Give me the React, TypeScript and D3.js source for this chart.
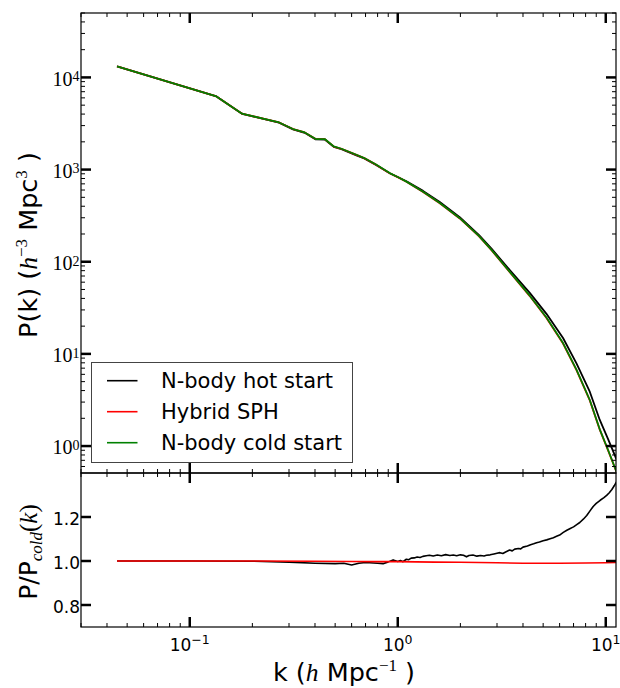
import React from "react";
import * as d3 from "d3";

// ---------- data ----------
const kTop = [0.0447, 0.1344, 0.1784, 0.2687, 0.3137, 0.357, 0.4034, 0.4457, 0.4924, 0.5362, 0.6329, 0.69, 0.79, 0.915, 1.01, 1.101, 1.323, 1.592, 1.986, 2.46, 2.822, 3.456, 4.312, 5.187, 6.232, 7.231, 8.379, 9.358, 10.26, 11.26];
const pCold = [13150, 6220, 4036, 3246, 2752, 2528, 2143, 2143, 1781, 1683, 1448, 1333, 1127, 916, 820, 740, 575, 433, 297, 190, 134.6, 77.5, 42.8, 24.8, 13.1, 6.75, 3.16, 1.52, 0.906, 0.527];
const pHot = [13150, 6220, 4034, 3230, 2730, 2505, 2122, 2120, 1762, 1662, 1424, 1320, 1114, 912, 820, 747, 587, 444, 305, 194.5, 138.6, 81.3, 45.9, 27.2, 14.86, 7.9, 3.89, 1.92, 1.187, 0.717];
const pSph = [13150, 6220, 4036, 3246, 2752, 2527, 2142, 2141, 1779, 1681, 1446, 1331, 1124, 913, 817, 737, 572, 430, 295, 188.5, 133.5, 76.8, 42.4, 24.55, 12.97, 6.68, 3.13, 1.505, 0.898, 0.523];

const kRatio = [0.0447, 0.1, 0.2, 0.3, 0.4, 0.5, 0.55, 0.6, 0.65, 0.7, 0.8, 0.85, 0.9, 0.95, 1.0, 1.03, 1.06, 1.1, 1.13, 1.16, 1.2, 1.24, 1.28, 1.32, 1.37, 1.42, 1.48, 1.55, 1.62, 1.7, 1.78, 1.85, 1.92, 2.0, 2.07, 2.14, 2.2, 2.3, 2.4, 2.5, 2.6, 2.67, 2.78, 2.9, 3.0, 3.1, 3.2, 3.3, 3.45, 3.55, 3.65, 3.8, 3.9, 4.0, 4.2, 4.35, 4.5, 4.65, 4.8, 5.0, 5.2, 5.4, 5.6, 5.8, 6.0, 6.25, 6.5, 6.75, 7.0, 7.25, 7.5, 7.8, 8.1, 8.4, 8.7, 9.0, 9.4, 9.8, 10.1, 10.4, 10.7, 11.0, 11.26];
const ratioHot = [1.0, 1.0, 0.999, 0.995, 0.99, 0.988, 0.99, 0.982, 0.99, 0.993, 0.99, 0.988, 0.996, 1.005, 0.998, 1.002, 0.997, 1.008, 1.006, 1.013, 1.014, 1.018, 1.016, 1.021, 1.024, 1.026, 1.023, 1.027, 1.024, 1.029, 1.025, 1.027, 1.024, 1.028, 1.026, 1.019, 1.025, 1.027, 1.022, 1.025, 1.023, 1.026, 1.028, 1.032, 1.035, 1.038, 1.034, 1.041, 1.05, 1.046, 1.054, 1.057, 1.055, 1.063, 1.068, 1.074, 1.078, 1.083, 1.086, 1.092, 1.096, 1.101, 1.106, 1.112, 1.118, 1.13, 1.14, 1.148, 1.155, 1.165, 1.175, 1.19, 1.207, 1.228, 1.248, 1.262, 1.276, 1.288, 1.298, 1.31, 1.325, 1.343, 1.36];
const kSph = [0.0447, 0.2, 0.4, 0.6, 0.8, 1.0, 1.5, 2.0, 3.0, 4.0, 6.0, 8.0, 10.0, 11.26];
const ratioSph = [1.0, 1.0, 0.999, 0.998, 0.997, 0.997, 0.995, 0.994, 0.992, 0.99, 0.99, 0.991, 0.992, 0.993];

const seriesNames = ["N-body hot start", "Hybrid SPH", "N-body cold start"];
const seriesColors = ["#000000", "#ff0000", "#008000"];
const xDecades = [-1, 0, 1];
const yTopDecades = [0, 1, 2, 3, 4];
const yBotTicks = [0.8, 1.0, 1.2];
const yBotLabels = ["0.8", "1.0", "1.2"];

// ---------- layout ----------
const L = 81, R = 616, T = 13, MID = 473, B = 627;

export default function App() {
  const x = d3.scaleLog().domain([0.03, 11.2]).range([L, R]);
  const yTop = d3.scaleLog().domain([0.51, 5e4]).range([MID, T]);
  const yBot = d3.scaleLinear().domain([0.7, 1.4]).range([B, MID]);

  const lineTop = (ps: number[]) =>
    d3.line<number>().x((_, i) => x(kTop[i])).y((p) => yTop(p))(ps) || "";
  const lineBot = (ks: number[], rs: number[]) =>
    d3.line<number>().x((_, i) => x(ks[i])).y((r) => yBot(r))(rs) || "";

  const isPow = (v: number) => Math.abs(Math.log10(v) - Math.round(Math.log10(v))) < 1e-6;
  const xMinor = x.ticks().filter((v) => !isPow(v));
  const xMajor = xDecades.map((e) => Math.pow(10, e));
  const yMinor = yTop.ticks().filter((v) => !isPow(v));
  const yMajor = yTopDecades.map((e) => Math.pow(10, e));

  const MAJ = 10, MIN = 4, MAJW = 2.5, MINW = 1;
  const sans = "DejaVu Sans, Bitstream Vera Sans, sans-serif";
  const serif = "Liberation Serif, DejaVu Serif, serif";

  const ticks: JSX.Element[] = [];
  let key = 0;
  const xEdges: [number, number][] = [[T, 1], [MID, -1], [MID, 1], [B, -1]];
  xEdges.forEach(([y0, dir]) => {
    xMajor.forEach((v) =>
      ticks.push(<line key={key++} x1={x(v)} x2={x(v)} y1={y0} y2={y0 + dir * MAJ} stroke="#000" strokeWidth={MAJW} />)
    );
    xMinor.forEach((v) =>
      ticks.push(<line key={key++} x1={x(v)} x2={x(v)} y1={y0} y2={y0 + dir * MIN} stroke="#000" strokeWidth={MINW} />)
    );
  });
  [[L, 1], [R, -1]].forEach(([x0, dir]) => {
    yMajor.forEach((v) =>
      ticks.push(<line key={key++} x1={x0} x2={x0 + dir * MAJ} y1={yTop(v)} y2={yTop(v)} stroke="#000" strokeWidth={MAJW} />)
    );
    yMinor.forEach((v) =>
      ticks.push(<line key={key++} x1={x0} x2={x0 + dir * MIN} y1={yTop(v)} y2={yTop(v)} stroke="#000" strokeWidth={MINW} />)
    );
    yBotTicks.forEach((v) =>
      ticks.push(<line key={key++} x1={x0} x2={x0 + dir * MAJ} y1={yBot(v)} y2={yBot(v)} stroke="#000" strokeWidth={MAJW} />)
    );
  });

  const topSeries = [pHot, pSph, pCold];

  const legX = 91.5, legY = 362.5, legW = 261, legH = 100;
  const rowY = [380.7, 411.7, 442.7];

  return (
    <svg width={620} height={688} style={{ position: "absolute", left: 0, top: 0, background: "#fff" }}>
      <defs>
        <clipPath id="clipTop"><rect x={L} y={T} width={R - L} height={MID - T} /></clipPath>
        <clipPath id="clipBot"><rect x={L} y={MID} width={R - L} height={B - MID} /></clipPath>
      </defs>
      <rect x={0} y={0} width={620} height={688} fill="#fff" />

      <g clipPath="url(#clipTop)">
        {topSeries.map((s, i) => (
          <path key={i} d={lineTop(s)} fill="none" stroke={seriesColors[i]} strokeWidth={1.8} strokeLinejoin="round" />
        ))}
      </g>
      <g clipPath="url(#clipBot)">
        <path d={lineBot(kRatio, ratioHot)} fill="none" stroke={seriesColors[0]} strokeWidth={1.6} strokeLinejoin="round" />
        <path d={lineBot(kSph, ratioSph)} fill="none" stroke={seriesColors[1]} strokeWidth={1.6} strokeLinejoin="round" />
      </g>

      {ticks}

      <rect x={L} y={T} width={R - L} height={MID - T} fill="none" stroke="#000" strokeWidth={1.2} />
      <rect x={L} y={MID} width={R - L} height={B - MID} fill="none" stroke="#000" strokeWidth={1.2} />

      {yTopDecades.map((e) => (
        <text key={e} x={79.5} y={yTop(Math.pow(10, e)) + 8.3} textAnchor="end" fontFamily={serif} fontSize={20}>
          10<tspan dy={-4.5} fontSize={14}>{e}</tspan>
        </text>
      ))}
      {yBotTicks.map((v, i) => (
        <text key={i} x={80} y={yBot(v) + 7.5} textAnchor="end" fontFamily={sans} fontSize={17}>
          {yBotLabels[i]}
        </text>
      ))}
      {xDecades.map((e) => (
        <text key={e} x={x(Math.pow(10, e))} y={651} textAnchor="middle" fontFamily={sans} fontSize={17}>
          10<tspan dy={-7} fontSize={12.5}>{e < 0 ? "\u2212" + Math.abs(e) : String(e)}</tspan>
        </text>
      ))}

      <text x={344} y={681} textAnchor="middle" fontFamily={sans} fontSize={25.5}>
        {"k ("}
        <tspan fontFamily={serif} fontStyle="italic">h</tspan>
        {" Mpc"}
        <tspan dy={-10} fontSize={17} fontFamily={serif}>{"\u22121"}</tspan>
        <tspan dy={10}>{" )"}</tspan>
      </text>
      <text transform="translate(37,245) rotate(-90)" textAnchor="middle" fontFamily={sans} fontSize={25.5}>
        {"P(k) ("}
        <tspan fontFamily={serif} fontStyle="italic">h</tspan>
        <tspan dy={-10} fontSize={17} fontFamily={serif}>{"\u22123"}</tspan>
        <tspan dy={10}>{" Mpc"}</tspan>
        <tspan dy={-10} fontSize={17} fontFamily={serif}>3</tspan>
        <tspan dy={10}>{" )"}</tspan>
      </text>
      <text transform="translate(37,552) rotate(-90)" textAnchor="middle" fontFamily={sans} fontSize={25}>
        {"P/P"}
        <tspan dy={5} fontSize={17} fontFamily={serif} fontStyle="italic">cold</tspan>
        <tspan dy={-5} fontFamily={serif}>(</tspan>
        <tspan fontFamily={serif} fontStyle="italic">k</tspan>
        <tspan fontFamily={serif}>)</tspan>
      </text>

      <rect x={legX} y={legY} width={legW} height={legH} fill="#fff" stroke="#444" strokeWidth={1} />
      {seriesNames.map((n, i) => (
        <g key={n}>
          <line x1={107} x2={137.5} y1={rowY[i]} y2={rowY[i]} stroke={seriesColors[i]} strokeWidth={1.6} />
          <text x={161} y={rowY[i] + 7.3} fontFamily={sans} fontSize={21}>{n}</text>
        </g>
      ))}
    </svg>
  );
}
